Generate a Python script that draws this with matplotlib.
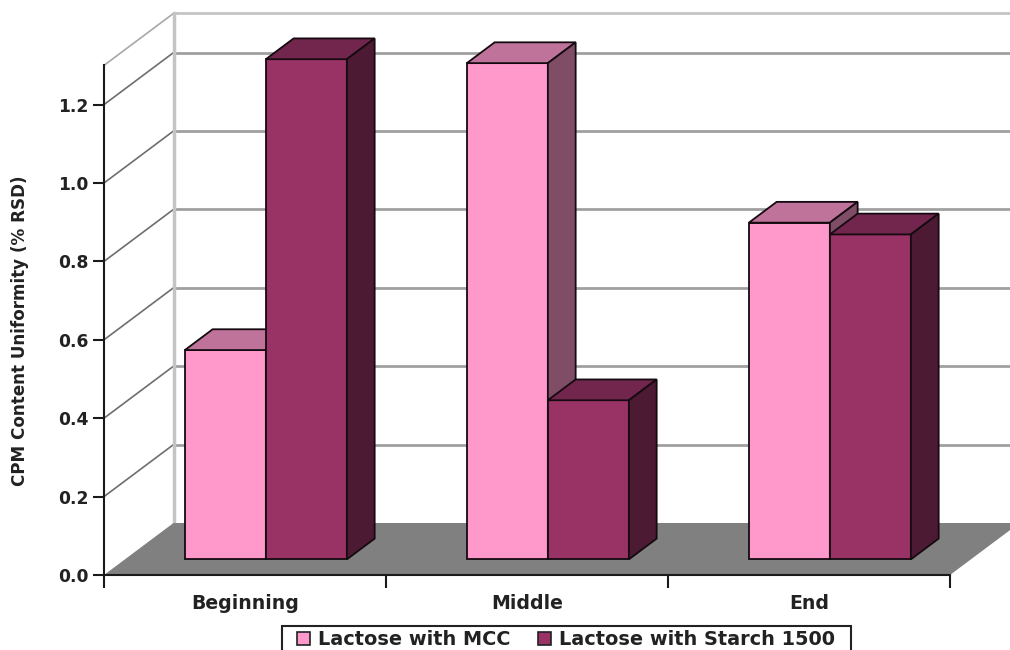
"""
3D style clustered bars, CPM content uniformity per blend stage
"""
import matplotlib
matplotlib.use('Agg')
import matplotlib.pyplot as plt
from matplotlib.patches import Patch, Polygon, Rectangle

categories = ['Beginning', 'Middle', 'End']
series_names = ['Lactose with MCC', 'Lactose with Starch 1500']
mcc_values = [0.534, 1.266, 0.859]
starch_values = [1.276, 0.406, 0.829]
y_ticks = [0.0, 0.2, 0.4, 0.6, 0.8, 1.0, 1.2]
y_max = 1.3

# face colors per series: front, top, side
mcc_colors = ('#FF99CC', '#C0739A', '#804D66')
starch_colors = ('#993366', '#73264D', '#4D1A33')

# oblique offset of the full floor depth, in data units
depth_x = 69.5 / 282
depth_y = 52 / 392
bar_width = 81 / 282
bar_gap = (1 - 2 * bar_width) / 2
bar_front = 0.3
bar_back = 0.7


def project(x, y, depth):
    return (x + depth_x * depth, y + depth_y * depth)


def draw_bar(ax, left, height, colors, zorder):
    right = left + bar_width
    front = [project(left, 0, bar_front), project(right, 0, bar_front),
             project(right, height, bar_front), project(left, height, bar_front)]
    top = [project(left, height, bar_front), project(right, height, bar_front),
           project(right, height, bar_back), project(left, height, bar_back)]
    side = [project(right, 0, bar_front), project(right, 0, bar_back),
            project(right, height, bar_back), project(right, height, bar_front)]
    for verts, color in zip((front, top, side), colors):
        ax.add_patch(Polygon(verts, closed=True, facecolor=color, edgecolor='#140a10',
                             linewidth=1.3, joinstyle='miter', clip_on=False, zorder=zorder))


plt.rcParams['font.family'] = ['DejaVu Sans']
plt.rcParams['font.weight'] = 'bold'

fig = plt.figure(figsize=(10.1, 6.5), dpi=100)
ax = fig.add_axes([104 / 1010, 75 / 650, 846.0 / 1010, y_max * 392 / 650])
ax.set_xlim(0, len(categories))
ax.set_ylim(0, y_max)
ax.patch.set_visible(False)

# walls
for value in y_ticks[1:]:
    ax.plot(*zip(project(0, value, 0), project(0, value, 1)), color='#6e6e6e', lw=1.2,
            clip_on=False, zorder=1)
    ax.plot(*zip(project(0, value, 1), project(3, value, 1)), color='#a0a0a0', lw=2,
            clip_on=False, zorder=1)
ax.plot(*zip(project(0, y_max, 0), project(0, y_max, 1)), color='#a8a8a8', lw=1.2,
        clip_on=False, zorder=1)
ax.plot(*zip(project(0, y_max, 1), project(3, y_max, 1)), color='#c4c4c4', lw=2,
        clip_on=False, zorder=1)
ax.plot(*zip(project(0, 0, 1), project(0, y_max, 1)), color='#c4c4c4', lw=2.5,
        clip_on=False, zorder=1)

# floor
ax.add_patch(Polygon([project(0, 0, 0), project(3, 0, 0), project(3, 0, 1), project(0, 0, 1)],
                     closed=True, facecolor='#808080', edgecolor='none', clip_on=False, zorder=2))

for i in range(len(categories)):
    left = i + bar_gap
    draw_bar(ax, left, mcc_values[i], mcc_colors, 3 + 2 * i)
    draw_bar(ax, left + bar_width, starch_values[i], starch_colors, 4 + 2 * i)

for name in ('top', 'right'):
    ax.spines[name].set_visible(False)
for name in ('left', 'bottom'):
    ax.spines[name].set_linewidth(1.5)
    ax.spines[name].set_color('#1a1a1a')
    ax.spines[name].set_zorder(20)

ax.set_yticks(y_ticks)
ax.set_yticklabels(['%.1f' % v for v in y_ticks])
ax.set_xticks(range(len(categories) + 1))
ax.set_xticklabels([])
ax.set_xticks([i + 0.5 for i in range(len(categories))], minor=True)
ax.set_xticklabels(categories, minor=True)
ax.tick_params(axis='x', which='major', length=9, width=1.5, color='#1a1a1a')
ax.tick_params(axis='x', which='minor', length=0, pad=14, labelsize=13.6, labelcolor='#222222')
ax.tick_params(axis='y', length=8, width=1.5, color='#1a1a1a', pad=3, labelsize=12.3,
               labelcolor='#222222')

fig.text(20 / 1010, 1 - 331 / 650, 'CPM Content Uniformity (% RSD)', rotation=90, ha='center',
         va='center', fontsize=12.1, color='#222222')

# legend box runs off the bottom edge of the picture
fig.add_artist(Rectangle((282 / 1010, -0.02), 569 / 1010, 1 - 626 / 650 + 0.02,
                         transform=fig.transFigure, facecolor='white', edgecolor='#222222',
                         linewidth=1.5))
handles = [Patch(facecolor=mcc_colors[0], edgecolor='#222222', linewidth=1.2),
           Patch(facecolor=starch_colors[0], edgecolor='#222222', linewidth=1.2)]
leg = fig.legend(handles, series_names, ncol=2, loc='upper left',
                 bbox_to_anchor=(297 / 1010, 1 - 630 / 650), bbox_transform=fig.transFigure,
                 borderaxespad=0, borderpad=0, fontsize=13.9, frameon=False, handlelength=0.67,
                 handleheight=0.67, handletextpad=0.41, columnspacing=1.45,
                 labelcolor='#222222')
leg.set_zorder(30)

fig.savefig('out.png', dpi=100)
